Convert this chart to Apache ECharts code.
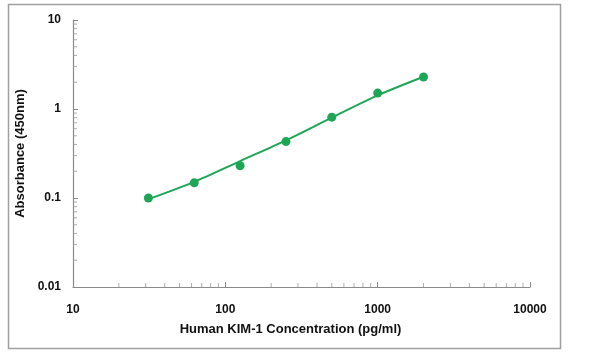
<!DOCTYPE html>
<html><head><meta charset="utf-8">
<script src="https://cdn.jsdelivr.net/npm/echarts@6/dist/echarts.min.js"></script>
<style>html,body{margin:0;padding:0;background:#fff}#c{width:600px;height:358px}</style>
</head><body><div id="c"></div>
<script>
var concentrations = [31.25, 62.5, 125, 250, 500, 1000, 2000];
var absorbance = [0.1, 0.148, 0.23, 0.43, 0.81, 1.51, 2.29];
var fitValues = [0.097, 0.152, 0.26, 0.445, 0.8, 1.42, 2.3];
var xMinorTicks = [20,30,40,50,60,70,80,90,200,300,400,500,600,700,800,900,2000,3000,4000,5000,6000,7000,8000,9000];
var yMinorTicks = [0.02,0.03,0.04,0.05,0.06,0.07,0.08,0.09,0.2,0.3,0.4,0.5,0.6,0.7,0.8,0.9,2,3,4,5,6,7,8,9];
var xTitle = 'Human KIM-1 Concentration (pg/ml)';
var yTitle = 'Absorbance (450nm)';

var green = '#1ea657';
var font = 'Liberation Sans';
var chart = echarts.init(document.getElementById('c'), null, {renderer:'canvas'});
chart.setOption({
  animation: false,
  graphic: [{type:'rect', shape:{x:8.5,y:4.5,width:552,height:344}, style:{fill:'none', stroke:'#a0a0a0', lineWidth:1.5}, z:-1}],
  grid: {left:73, right:70, top:20, bottom:71},
  xAxis: {
    type:'log', logBase:10, min:10, max:10000,
    name: xTitle, nameLocation:'middle', nameGap:36,
    nameTextStyle:{fontFamily:font, fontWeight:'bold', fontSize:13, color:'#111', padding:[0,22,0,0]},
    axisLine:{lineStyle:{color:'#8a8a8a', width:1.2}},
    axisTick:{inside:true, length:5, lineStyle:{color:'#8a8a8a'}},
    axisLabel:{fontFamily:font, fontWeight:'bold', fontSize:12, color:'#111', margin:17,
      formatter:function(v){return String(Math.round(v));}},
    splitLine:{show:false}
  },
  yAxis: {
    type:'log', logBase:10, min:0.01, max:10,
    name: yTitle, nameLocation:'middle', nameGap:44,
    nameTextStyle:{fontFamily:font, fontWeight:'bold', fontSize:13, color:'#111'},
    axisLine:{show:true, lineStyle:{color:'#8a8a8a', width:1.2}},
    axisTick:{show:true, inside:true, length:5, lineStyle:{color:'#8a8a8a'}},
    axisLabel:{fontFamily:font, fontWeight:'bold', fontSize:12, color:'#111', margin:12,
      formatter:function(v){return String(+v.toPrecision(3));}},
    splitLine:{show:false}
  },
  series: [
    {type:'line', data: concentrations.map(function(c,i){return [c, fitValues[i]];}),
     smooth:0.3, showSymbol:false, lineStyle:{color:green, width:2}, z:2, silent:true},
    {type:'scatter', data: concentrations.map(function(c,i){return [c, absorbance[i]];}),
     symbol:'circle', symbolSize:9, itemStyle:{color:green, opacity:1}, z:3},
    {type:'scatter', data: xMinorTicks.map(function(v){return [v, 0.01];}), clip:false, silent:true,
     symbol:'rect', symbolSize:[1,4], symbolOffset:[0,-2], itemStyle:{color:'#9a9a9a'}, z:1},
    {type:'scatter', data: yMinorTicks.map(function(v){return [10, v];}), clip:false, silent:true,
     symbol:'rect', symbolSize:[4,1], symbolOffset:[2,0], itemStyle:{color:'#9a9a9a'}, z:1}
  ]
});
</script></body></html>
